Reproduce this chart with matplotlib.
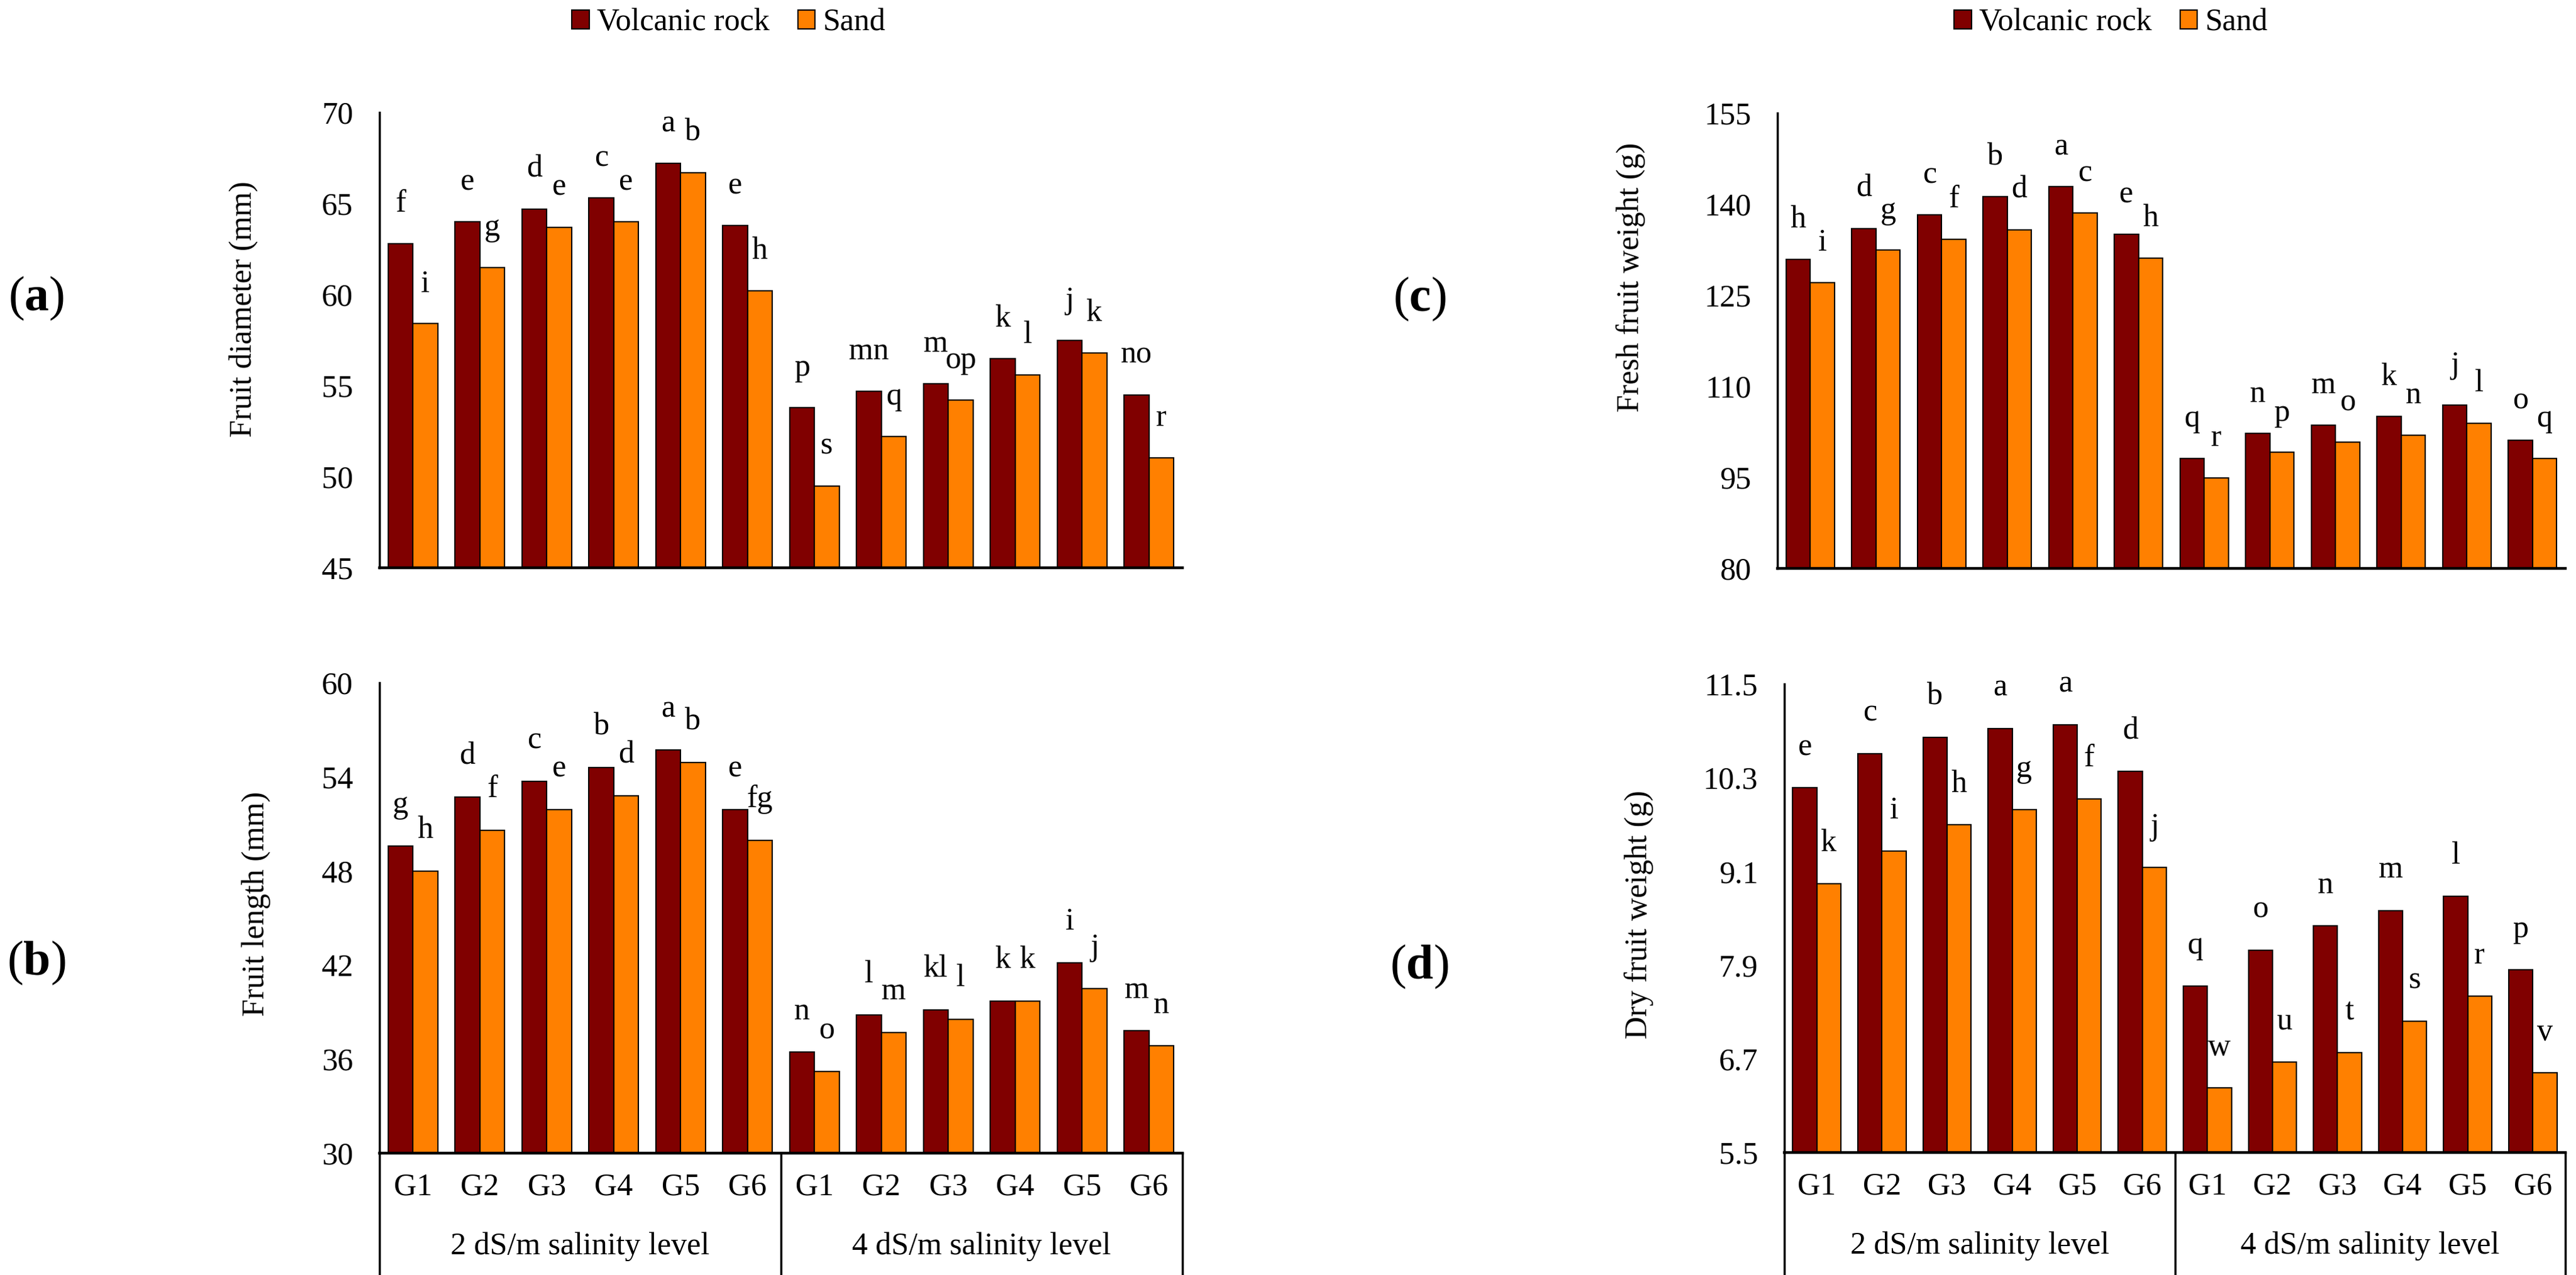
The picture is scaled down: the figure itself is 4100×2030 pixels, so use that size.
import matplotlib
matplotlib.use("Agg")
import matplotlib.pyplot as plt
import numpy as np
from matplotlib.patches import Patch
from matplotlib.transforms import blended_transform_factory

plt.rcParams['font.family'] = ['Liberation Serif', 'DejaVu Serif']
plt.rcParams['mathtext.fontset'] = 'custom'
plt.rcParams['mathtext.rm'] = 'Liberation Serif'
plt.rcParams['mathtext.bf'] = 'Liberation Serif:bold'

W, H = 4100, 2030
FS = 36
ROCK = '#800000'
SAND = '#FF8000'

genotypes = ['G1', 'G2', 'G3', 'G4', 'G5', 'G6'] * 2
salinity = ['2 dS/m salinity level', '4 dS/m salinity level']
series_names = ['Volcanic rock', 'Sand']

# (a) fruit diameter (mm)
diam_rock = [62.8, 64.0, 64.7, 65.3, 67.2, 63.8, 53.8, 54.7, 55.1, 56.5, 57.5, 54.5]
diam_sand = [58.4, 61.5, 63.7, 64.0, 66.7, 60.2, 49.5, 52.2, 54.2, 55.6, 56.8, 51.05]
diam_rock_let = ['f', 'e', 'd', 'c', 'a', 'e', 'p', 'mn', 'm', 'k', 'j', 'no']
diam_sand_let = ['i', 'g', 'e', 'e', 'b', 'h', 's', 'q', 'op', 'l', 'k', 'r']

# (b) fruit length (mm)
len_rock = [49.6, 52.7, 53.7, 54.6, 55.7, 51.9, 36.45, 38.8, 39.15, 39.7, 42.15, 37.8]
len_sand = [48.0, 50.6, 51.9, 52.8, 54.9, 49.95, 35.2, 37.7, 38.55, 39.7, 40.5, 36.85]
len_rock_let = ['g', 'd', 'c', 'b', 'a', 'e', 'n', 'l', 'kl', 'k', 'i', 'm']
len_sand_let = ['h', 'f', 'e', 'd', 'b', 'fg', 'o', 'm', 'l', 'k', 'j', 'n']

# (c) fresh fruit weight (g)
fresh_rock = [130.9, 136.0, 138.2, 141.2, 142.9, 135.0, 98.1, 102.2, 103.6, 105.0, 106.9, 101.1]
fresh_sand = [127.1, 132.4, 134.2, 135.8, 138.5, 131.1, 94.9, 99.1, 100.75, 101.95, 103.9, 98.1]
fresh_rock_let = ['h', 'd', 'c', 'b', 'a', 'e', 'q', 'n', 'm', 'k', 'j', 'o']
fresh_sand_let = ['i', 'g', 'f', 'd', 'c', 'h', 'r', 'p', 'o', 'n', 'l', 'q']

# (d) dry fruit weight (g)
dry_rock = [10.17, 10.61, 10.82, 10.93, 10.98, 10.38, 7.63, 8.09, 8.40, 8.60, 8.78, 7.84]
dry_sand = [8.94, 9.36, 9.70, 9.89, 10.03, 9.15, 6.33, 6.66, 6.78, 7.18, 7.50, 6.52]
dry_rock_let = ['e', 'c', 'b', 'a', 'a', 'd', 'q', 'o', 'n', 'm', 'l', 'p']
dry_sand_let = ['k', 'i', 'h', 'g', 'f', 'j', 'w', 'u', 't', 's', 'r', 'v']


def box(x0, y0, x1, y1):
    return [x0 / W, 1 - y1 / H, (x1 - x0) / W, (y1 - y0) / H]


def draw(ax, rock, sand, rock_let, sand_let, yticks, multilevel):
    x = np.arange(len(rock))
    w = 0.37
    ax.bar(x - w / 2, rock, w, color=ROCK, edgecolor='black', linewidth=1.5)
    ax.bar(x + w / 2, sand, w, color=SAND, edgecolor='black', linewidth=1.5)
    span = yticks[-1] - yticks[0]
    for xs, vals, lets in ((x - w / 2, rock, rock_let), (x + w / 2, sand, sand_let)):
        for xi, v, t in zip(xs, vals, lets):
            ax.text(xi, v + 0.07 * span, t, ha='center', va='baseline', fontsize=FS)
    ax.set_xlim(-0.5, len(rock) - 0.5)
    ax.set_ylim(yticks[0], yticks[-1])
    ax.set_yticks(yticks)
    ax.set_yticklabels([f"{v:g}" for v in yticks])
    ax.tick_params(axis='y', length=0, pad=30, labelsize=FS)
    for s in ('top', 'right'):
        ax.spines[s].set_visible(False)
    ax.spines['left'].set_linewidth(2.5)
    ax.spines['bottom'].set_linewidth(3.2)
    if multilevel:
        ax.set_xticks(x)
        ax.set_xticklabels(genotypes)
        ax.tick_params(axis='x', length=0, pad=22, labelsize=FS)
        tr = blended_transform_factory(ax.transData, ax.transAxes)
        for xv in (-0.5, 5.5, 11.5):
            ax.plot([xv, xv], [0, -0.3], color='black', lw=2.5,
                    transform=tr, clip_on=False)
        for xc, lab in zip((2.5, 8.5), salinity):
            ax.text(xc, -0.199, lab, transform=tr, ha='center', va='center',
                    fontsize=FS)
    else:
        ax.set_xticks([])


fig = plt.figure(figsize=(W / 100, H / 100), dpi=100)

ax_a = fig.add_axes(box(604, 179, 1882, 904))
draw(ax_a, diam_rock, diam_sand, diam_rock_let, diam_sand_let,
     [45, 50, 55, 60, 65, 70], False)
ax_b = fig.add_axes(box(604, 1087, 1882, 1836))
draw(ax_b, len_rock, len_sand, len_rock_let, len_sand_let,
     [30, 36, 42, 48, 54, 60], True)
ax_c = fig.add_axes(box(2829, 180, 4083, 905))
draw(ax_c, fresh_rock, fresh_sand, fresh_rock_let, fresh_sand_let,
     [80, 95, 110, 125, 140, 155], False)
ax_d = fig.add_axes(box(2840, 1089, 4083, 1835))
draw(ax_d, dry_rock, dry_sand, dry_rock_let, dry_sand_let,
     [5.5, 6.7, 7.9, 9.1, 10.3, 11.5], True)

# y-axis titles
for xp, yp, lab in ((388, 492, 'Fruit diameter (mm)'),
                    (408, 1439, 'Fruit length (mm)'),
                    (2596, 441, 'Fresh fruit weight (g)'),
                    (2609, 1456, 'Dry fruit weight (g)')):
    fig.text(xp / W, 1 - yp / H, lab, rotation=90, ha='center', va='center',
             fontsize=FS)

# panel tags
for xp, yp, tag in ((58, 475, 'a'), (58, 1533, 'b'), (2259, 476, 'c'), (2259, 1539, 'd')):
    fig.text(xp / W, 1 - yp / H, r'($\mathbf{%s}$)' % tag, ha='center', va='center',
             fontsize=56)

# legends
handles = [Patch(facecolor=ROCK, edgecolor='black', linewidth=1.5),
           Patch(facecolor=SAND, edgecolor='black', linewidth=1.5)]
for xc in (1160, 3360):
    fig.legend(handles, series_names, loc='center', bbox_to_anchor=(xc / W, 1 - 36 / H),
               ncol=2, frameon=False, fontsize=FS, handlelength=0.55, handleheight=0.55,
               handletextpad=0.25, columnspacing=0.9, borderpad=0)

fig.savefig('out.png', dpi=100)
